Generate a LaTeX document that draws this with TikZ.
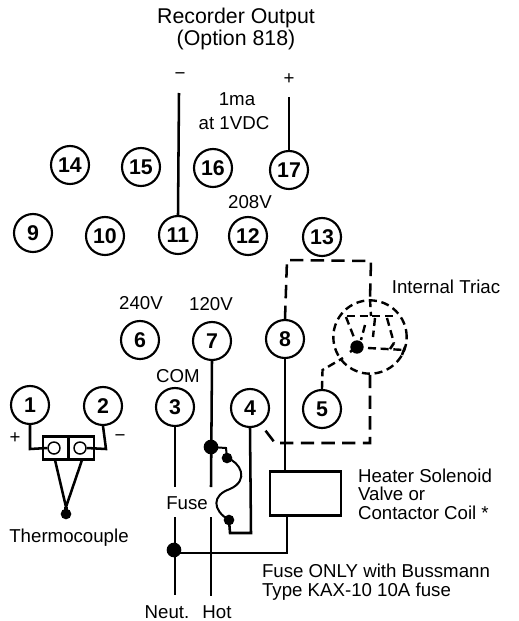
\documentclass[tikz,border=0pt]{standalone}
\usepackage{fontspec}
\setmainfont{Liberation Sans}
\tikzset{
	pin/.style={draw, circle, line width=1.6pt, minimum size=28.5pt, inner sep=0pt, font=\fontsize{16}{16}\selectfont\bfseries},
	lab/.style={inner sep=0pt, align=left, font=\fontsize{14}{14}\selectfont},
	wire/.style={line width=1.9pt},
	thinwire/.style={line width=1.5pt},
	dashwire/.style={line width=1.9pt, dash pattern=on 10pt off 5.5pt},
	triacwire/.style={line width=1.8pt, dash pattern=on 6pt off 3.5pt},
	dot/.style={circle, fill, inner sep=0pt, minimum size=#1}
}
\begin{document}
\begin{tikzpicture}[x=0.75pt,y=-0.75pt]
	\useasboundingbox (0,0) rectangle (518,621);

	\node[lab, align=center, font=\fontsize{16}{16.5}\selectfont] (title) at (236,29) {Recorder Output\\(Option 818)};
	\node[lab] (ma) at (237,99) {1ma};
	\node[lab] (vdc) at (234,123) {at 1VDC};
	\node[lab] (minus) at (180,76) {−};
	\node[lab] (plus) at (289,79) {+};
	\node[lab] (v208) at (250,202) {208V};
	\node[lab] (triac) at (446,287) {Internal Triac};
	\node[lab] (v240) at (141,303) {240V};
	\node[lab] (v120) at (211,304) {120V};
	\node[lab] (com) at (178,376) {COM};
	\node[lab] (tplus) at (15,438) {+};
	\node[lab] (tminus) at (120,438) {−};
	\node[lab] (couple) at (69,538) {Thermocouple};
	\node[lab] (fuse) at (187,503) {Fuse};
	\node[lab] (coil) at (425,494) {Heater Solenoid\\Valve or\\Contactor Coil *};
	\node[lab] (bussmann) at (376,582) {Fuse ONLY with Bussmann\\Type KAX-10 10A fuse};
	\node[lab] (neut) at (167,612) {Neut.};
	\node[lab] (hot) at (217,612) {Hot};

	\node[pin] (t14) at (70,165) {14};
	\node[pin] (t15) at (141,167) {15};
	\node[pin] (t16) at (213,168) {16};
	\node[pin] (t17) at (289,170) {17};
	\node[pin] (t9) at (33,233) {9};
	\node[pin] (t10) at (105,236) {10};
	\node[pin] (t11) at (178,235) {11};
	\node[pin] (t12) at (248,236) {12};
	\node[pin] (t13) at (322,237) {13};
	\node[pin] (t6) at (140,340) {6};
	\node[pin] (t7) at (212,341) {7};
	\node[pin] (t8) at (285,339) {8};
	\node[pin] (t5) at (322,409) {5};
	\node[pin] (t4) at (250,408) {4};
	\node[pin] (t3) at (175,407) {3};
	\node[pin] (t2) at (103,406) {2};
	\node[pin] (t1) at (30,405) {1};

	\draw[wire] (t11.north) -- (179,93);
	\draw[wire] (t17.north) -- (289,97);

	\node[draw, circle, triacwire, minimum size=55pt, inner sep=0pt] (gate) at (370,337) {};
	\node[draw, wire, minimum width=53pt, minimum height=33pt, inner sep=0pt] (relay) at (305.5,493.5) {};

	\draw[dashwire] (t8.north) -- (287,260) -- (371,261) -- (gate.north);
	\draw[dashwire] (gate.south) -- (370,443) -- (275,443) -- (265,430);
	\draw[triacwire] (t5.north) -- (322.5,370) -- (343,358);
	\draw[triacwire] (gate.north) -- (371,316);
	\draw[triacwire] (347,316) -- (394,316);
	\draw[triacwire] (346,317) -- (355,340);
	\draw[triacwire] (365,325) -- (361,340);
	\draw[triacwire] (375,318) -- (373,337);
	\draw[triacwire] (387,318) -- (394,343);
	\draw[triacwire] (368,348) -- (405,350);
	\node[dot=10pt] (tip) at (357,347) {};
	\draw[wire] (tip.center) -- (350,352);
	\draw[wire] (405,347) -- (402,355);
	\draw[wire] (394,343) -- (390,349);

	\node[draw, wire, minimum width=38pt, minimum height=17pt, inner sep=0pt] (block) at (68.5,448) {};
	\draw[wire] (block.north) -- (block.south);
	\node[draw, circle, line width=1.1pt, fill=white, minimum size=9pt, inner sep=0pt] (c1) at (54,448) {};
	\node[draw, circle, line width=1.1pt, fill=white, minimum size=9pt, inner sep=0pt] (c2) at (80,448) {};
	\draw[wire] (t1.south) -- (30,449) -- (c1.west);
	\draw[wire] (t2.south) -- (106,449) -- (c2.east);
	\coordinate (tcjoin) at (66,507);
	\node[dot=8pt] (tc) at (66,514) {};
	\draw[wire] (55,460) -- (tcjoin) -- (82,460);
	\draw[line width=3pt] (tcjoin) -- (tc.center);

	\node[dot=11pt] (hotdot) at (211,447) {};
	\node[dot=11pt] (neutdot) at (174,550) {};
	\node[dot=8pt] (fuseA) at (227,458) {};
	\node[dot=8pt] (fuseB) at (229,520) {};
	\coordinate (neutA) at (175,487);
	\coordinate (neutB) at (175,517);
	\coordinate (neutC) at (175,595);
	\coordinate (hotA) at (211,487);
	\coordinate (hotB) at (211,517);
	\coordinate (hotC) at (211,596);

	\draw[wire] (t3.south) -- (neutA);
	\draw[wire] (neutB) -- (neutC);
	\draw[wire] (t7.south) -- (hotA);
	\draw[wire] (hotB) -- (hotC);
	\draw[wire] (t8.south) -- (relay.north -| t8);
	\draw[wire] (neutdot.center) -- (174,553) -- (287,553) -- (relay.south -| 287,553);
	\draw[wire] (t4.south) -- (251,533) -- (230,533) -- (fuseB.center);
	\draw[thinwire] (hotdot.center) -- (226,448) -- (fuseA.center) .. controls (240,462) and (250,480) .. (230,489) .. controls (212,495) and (212,510) .. (fuseB.center);
\end{tikzpicture}
\end{document}
